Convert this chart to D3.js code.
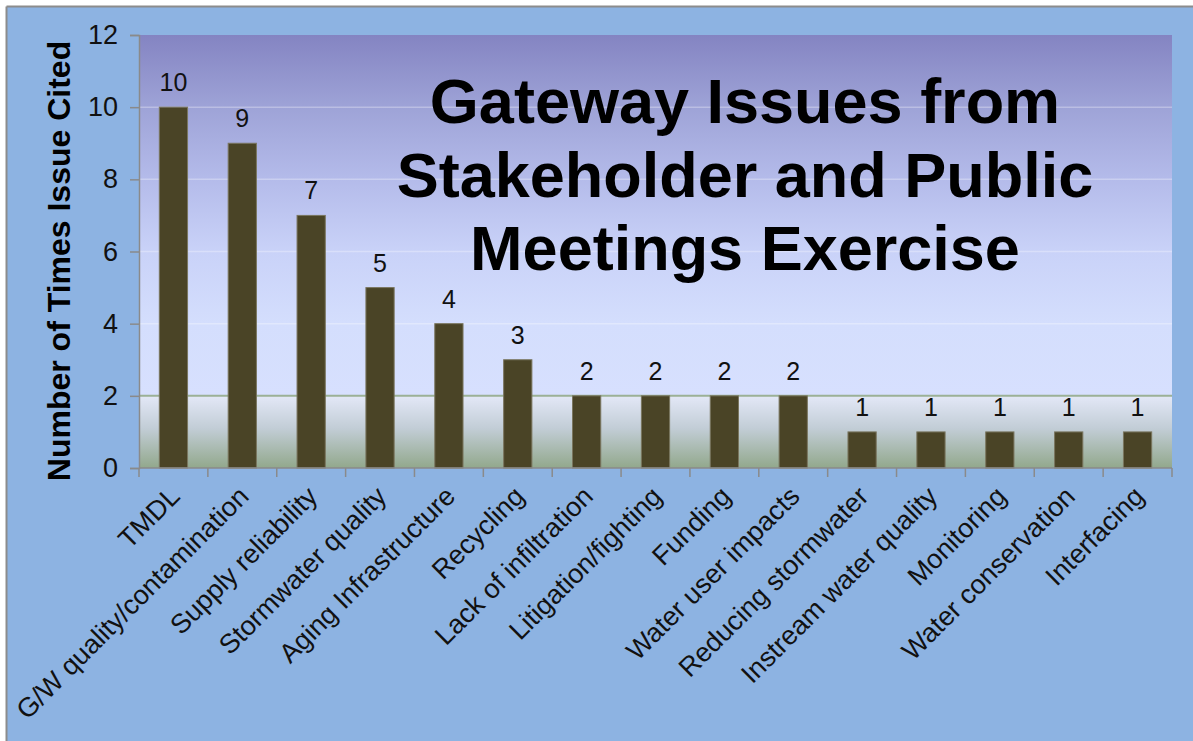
<!DOCTYPE html>
<html>
<head>
<meta charset="utf-8">
<script src="https://cdn.jsdelivr.net/npm/d3@7"></script>
<style>
  html, body { margin: 0; padding: 0; background: #ffffff; }
  svg { display: block; font-family: "Liberation Sans", Arial, sans-serif; }
</style>
</head>
<body>
<svg id="chart" width="1193" height="741"></svg>
<script>
const categories = ["TMDL", "G/W quality/contamination", "Supply reliability", "Stormwater quality",
  "Aging Infrastructure", "Recycling", "Lack of infiltration", "Litigation/fighting", "Funding",
  "Water user impacts", "Reducing stormwater", "Instream water quality", "Monitoring",
  "Water conservation", "Interfacing"];
const values = [10, 9, 7, 5, 4, 3, 2, 2, 2, 2, 1, 1, 1, 1, 1];
const yTicks = [0, 2, 4, 6, 8, 10, 12];
const titleLines = ["Gateway Issues from", "Stakeholder and Public", "Meetings Exercise"];
const yAxisTitle = "Number of Times Issue Cited";

const W = 1193, H = 741;
const svg = d3.select("#chart");
const defs = svg.append("defs");

// frame
svg.append("rect").attr("x", 0).attr("y", 0).attr("width", W).attr("height", H).attr("fill", "#ffffff");
svg.append("rect").attr("x", 7).attr("y", 7).attr("width", W - 7).attr("height", H - 7).attr("fill", "#8db3e2");
svg.append("line").attr("x1", 6.5).attr("x2", W).attr("y1", 6.5).attr("y2", 6.5).attr("stroke", "#8c8c8c").attr("stroke-width", 2);
svg.append("line").attr("x1", 6.5).attr("x2", 6.5).attr("y1", 6.5).attr("y2", H).attr("stroke", "#8c8c8c").attr("stroke-width", 2);

const plot = { left: 139, right: 1172, top: 35, bottom: 468 };

const x = d3.scaleBand().domain(categories).range([plot.left, plot.right])
  .paddingInner(0.59).paddingOuter(0.295);
const xBand = d3.scaleBand().domain(categories).range([plot.left, plot.right]).padding(0);
const y = d3.scaleLinear().domain([0, 12]).range([plot.bottom, plot.top]);

// gradients
const gTop = defs.append("linearGradient").attr("id", "gTop").attr("x1", 0).attr("y1", 0).attr("x2", 0).attr("y2", 1);
[[0, "#8484c2"], [0.2, "#9ea3d7"], [0.4, "#b4bbea"], [0.6, "#c9d2f8"], [0.8, "#d4defd"], [1, "#d7e0fe"]]
  .forEach(([o, c]) => gTop.append("stop").attr("offset", o).attr("stop-color", c));
const gBot = defs.append("linearGradient").attr("id", "gBot").attr("x1", 0).attr("y1", 0).attr("x2", 0).attr("y2", 1);
[[0, "#e3e8f7"], [0.45, "#c2cdd6"], [1, "#92a88c"]]
  .forEach(([o, c]) => gBot.append("stop").attr("offset", o).attr("stop-color", c));

svg.append("rect").attr("x", plot.left).attr("y", y(12)).attr("width", plot.right - plot.left)
  .attr("height", y(2) - y(12)).attr("fill", "url(#gTop)");
svg.append("rect").attr("x", plot.left).attr("y", y(2)).attr("width", plot.right - plot.left)
  .attr("height", y(0) - y(2)).attr("fill", "url(#gBot)");

// gridlines
svg.append("g").selectAll("line").data(yTicks.filter(t => t > 2 && t < 12)).join("line")
  .attr("x1", plot.left).attr("x2", plot.right)
  .attr("y1", d => y(d)).attr("y2", d => y(d))
  .attr("stroke", "#ffffff").attr("stroke-opacity", 0.3).attr("stroke-width", 1.5);
svg.append("line").attr("x1", plot.left).attr("x2", plot.right)
  .attr("y1", y(2)).attr("y2", y(2)).attr("stroke", "#9bb196").attr("stroke-width", 2);

// title
const title = svg.append("text").attr("text-anchor", "middle")
  .attr("font-weight", "bold").attr("font-size", 63).attr("fill", "#000");
titleLines.forEach((t, i) => title.append("tspan").attr("x", 745).attr("y", 123 + i * 73.5).text(t));

// bars
svg.append("g").selectAll("rect").data(values).join("rect")
  .attr("x", (d, i) => x(categories[i]))
  .attr("y", d => y(d))
  .attr("width", x.bandwidth())
  .attr("height", d => y(0) - y(d))
  .attr("fill", "#4a4426").attr("stroke", "#7a765f").attr("stroke-width", 1);

// value labels
svg.append("g").selectAll("text").data(values).join("text")
  .attr("x", (d, i) => x(categories[i]) + x.bandwidth() / 2)
  .attr("y", d => y(d) - 16)
  .attr("text-anchor", "middle").attr("font-size", 25).attr("fill", "#111")
  .text(d => d);

// y axis
const yAxis = d3.axisLeft(y).tickValues(yTicks).tickSize(9).tickPadding(12).tickFormat(d3.format("d"));
const gy = svg.append("g").attr("transform", `translate(${plot.left},0)`).call(yAxis);
gy.select(".domain").attr("stroke", "#8a8a8a").attr("stroke-width", 1.5);
gy.selectAll(".tick line").attr("stroke", "#8a8a8a").attr("stroke-width", 1.5);
gy.selectAll(".tick text").attr("font-size", 27).attr("fill", "#111")
  .attr("font-family", "'Liberation Sans', Arial, sans-serif");

// x axis (ticks at band boundaries)
const boundaries = d3.range(categories.length + 1).map(i => plot.left + i * xBand.step());
svg.append("line").attr("x1", plot.left).attr("x2", plot.right).attr("y1", plot.bottom).attr("y2", plot.bottom)
  .attr("stroke", "#8a8a8a").attr("stroke-width", 1.5);
svg.append("g").selectAll("line").data(boundaries).join("line")
  .attr("x1", d => d).attr("x2", d => d).attr("y1", plot.bottom).attr("y2", plot.bottom + 9)
  .attr("stroke", "#8a8a8a").attr("stroke-width", 1.5);

// category labels
svg.append("g").selectAll("text").data(categories).join("text")
  .attr("transform", d => `translate(${xBand(d) + xBand.bandwidth() / 2 + 8},${plot.bottom + 30}) rotate(-45)`)
  .attr("text-anchor", "end").attr("font-size", 27).attr("fill", "#111")
  .text(d => d);

// y axis title
svg.append("text").attr("transform", `translate(70,261) rotate(-90)`)
  .attr("text-anchor", "middle").attr("font-weight", "bold").attr("font-size", 32).attr("fill", "#000")
  .text(yAxisTitle);
</script>
</body>
</html>
